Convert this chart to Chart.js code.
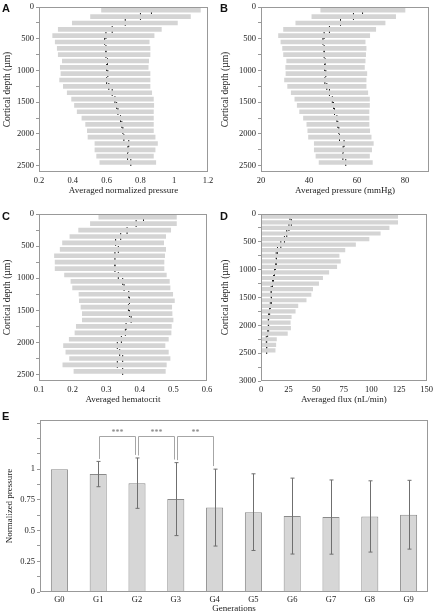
<!DOCTYPE html>
<html>
<head>
<meta charset="utf-8">
<script src="https://cdn.jsdelivr.net/npm/chart.js@4.4.0/dist/chart.umd.min.js"></script>
<style>
  body { margin: 0; background: #fff; }
  #page { position: relative; width: 437px; height: 614px; overflow: hidden; }
  .panel { position: absolute; }
  .letter { position: absolute; font: bold 11px "Liberation Sans", Arial, sans-serif; line-height: 11px; color: #111; }
</style>
</head>
<body>
<div id="page">
  <div class="panel" style="left:0;top:0;width:218px;height:200px"><canvas id="chart-a"></canvas></div>
  <div class="panel" style="left:218px;top:0;width:219px;height:200px"><canvas id="chart-b"></canvas></div>
  <div class="panel" style="left:0;top:200px;width:218px;height:210px"><canvas id="chart-c"></canvas></div>
  <div class="panel" style="left:218px;top:200px;width:219px;height:210px"><canvas id="chart-d"></canvas></div>
  <div class="panel" style="left:0;top:408px;width:437px;height:206px"><canvas id="chart-e"></canvas></div>
  <div class="letter" style="left:2px;top:3px">A</div>
  <div class="letter" style="left:220px;top:3px">B</div>
  <div class="letter" style="left:2px;top:211px">C</div>
  <div class="letter" style="left:220px;top:211px">D</div>
  <div class="letter" style="left:2px;top:411px">E</div>
</div>
<script>
// depth bins (µm), centre of each 100 µm slab
const depths = [50, 150, 250, 350, 450, 550, 650, 750, 850, 950, 1050, 1150, 1250,
  1350, 1450, 1550, 1650, 1750, 1850, 1950, 2050, 2150, 2250, 2350, 2450]

// A - averaged normalized pressure (mean and +/- SD band)
const meanA = [0.865, 0.80, 0.71, 0.633, 0.596, 0.588, 0.596, 0.596, 0.605, 0.60, 0.607, 0.60, 0.613,
  0.633, 0.649, 0.659, 0.667, 0.682, 0.69, 0.696, 0.702, 0.731, 0.726, 0.724, 0.743]
const loA = [0.57, 0.505, 0.397, 0.314, 0.281, 0.296, 0.308, 0.314, 0.338, 0.326, 0.33, 0.322, 0.344,
  0.367, 0.393, 0.41, 0.426, 0.454, 0.476, 0.486, 0.49, 0.531, 0.531, 0.541, 0.56]
const hiA = [1.155, 1.096, 1.019, 0.924, 0.881, 0.852, 0.857, 0.857, 0.849, 0.846, 0.857, 0.857, 0.857,
  0.867, 0.877, 0.879, 0.877, 0.877, 0.877, 0.877, 0.887, 0.901, 0.887, 0.877, 0.891]

// B - averaged pressure (mmHg)
const meanB = [62.3, 58.5, 53.1, 48.5, 46.3, 45.8, 46.3, 46.3, 46.7, 46.5, 47.0, 46.6, 47.4,
  48.5, 49.7, 50.2, 50.6, 51.6, 52.0, 52.4, 52.7, 54.6, 54.2, 54.1, 55.3]
const loB = [44.9, 41.2, 34.5, 29.4, 27.3, 28.3, 29.0, 29.4, 30.7, 30.3, 30.4, 29.8, 31.1,
  32.6, 34.1, 35.1, 36.1, 37.7, 39.1, 39.5, 39.8, 42.2, 42.2, 42.9, 44.2]
const hiB = [80.0, 76.1, 71.7, 67.8, 65.3, 63.4, 63.8, 63.6, 63.4, 63.1, 64.1, 63.8, 63.8,
  64.5, 65.2, 65.2, 65.0, 65.0, 65.0, 65.3, 65.9, 66.8, 66.1, 65.2, 66.4]

// C - averaged hematocrit
const meanC = [0.411, 0.389, 0.362, 0.343, 0.328, 0.336, 0.326, 0.326, 0.326, 0.336, 0.349, 0.353, 0.367,
  0.369, 0.366, 0.369, 0.374, 0.359, 0.357, 0.345, 0.333, 0.340, 0.349, 0.333, 0.349]
const loC = [0.278, 0.253, 0.218, 0.192, 0.170, 0.163, 0.146, 0.148, 0.148, 0.176, 0.195, 0.200, 0.219,
  0.220, 0.225, 0.229, 0.229, 0.211, 0.207, 0.190, 0.173, 0.180, 0.191, 0.171, 0.204]
const hiC = [0.509, 0.509, 0.492, 0.477, 0.471, 0.477, 0.474, 0.472, 0.472, 0.479, 0.488, 0.490, 0.498,
  0.503, 0.495, 0.496, 0.499, 0.494, 0.493, 0.485, 0.475, 0.485, 0.490, 0.479, 0.476]

// D - averaged flux (nL/min), band is clipped at 0
const meanD = [26.2, 27.4, 25.3, 23.3, 21.2, 17.9, 14.9, 13.7, 14.0, 13.1, 12.2, 11.3, 10.4,
  9.2, 9.2, 9.5, 8.4, 7.8, 6.9, 6.6, 6.9, 6.0, 4.8, 5.1, 5.1]
const loD = [0, 0, 0, 0, 0, 0, 0, 0, 0, 0, 0, 0, 0, 0, 0, 0, 0, 0, 0, 0, 0, 0, 0, 0, 0]
const hiD = [123.8, 123.8, 116.0, 108.0, 97.8, 85.6, 76.0, 70.7, 71.9, 68.6, 61.4, 55.8, 52.2,
  46.8, 45.3, 40.9, 33.4, 31.0, 27.4, 26.5, 26.8, 23.9, 14.0, 13.4, 12.8]

// E - normalized pressure per generation
const generations = ["G0", "G1", "G2", "G3", "G4", "G5", "G6", "G7", "G8", "G9"]
const meanE = [1.0, 0.96, 0.886, 0.756, 0.687, 0.650, 0.618, 0.610, 0.615, 0.629]
const errE = [0, 0.103, 0.205, 0.297, 0.313, 0.312, 0.309, 0.302, 0.29, 0.28]
const sigPairs = [[1, 2], [2, 3], [3, 4]]
const sigLabels = ["***", "***", "**"]
const sigLevel = 1.27

// tick positions
const xTicksA = [0.2, 0.4, 0.6, 0.8, 1, 1.2]
const xTicksB = [20, 40, 60, 80]
const xTicksC = [0.1, 0.2, 0.3, 0.4, 0.5, 0.6]
const xTicksD = [0, 25, 50, 75, 100, 125, 150]
const depthTicks = [0, 250, 500, 750, 1000, 1250, 1500, 1750, 2000, 2250, 2500]
const depthTicksD = [0, 250, 500, 750, 1000, 1250, 1500, 1750, 2000, 2250, 2500, 2750, 3000]
const yTicksE = [0, 0.125, 0.25, 0.375, 0.5, 0.625, 0.75, 0.875, 1, 1.125, 1.25, 1.375]

Chart.defaults.font.family = '"Liberation Serif", "DejaVu Serif", serif'
Chart.defaults.font.size = 8.5
Chart.defaults.color = "#222"
Chart.defaults.animation = false

const axisGrey = "#999"

// small "+" glyph used as the mean marker
const plusMark = document.createElement("canvas")
plusMark.width = 7
plusMark.height = 7
const pctx = plusMark.getContext("2d")
pctx.fillStyle = "#1a1a1a"
pctx.fillRect(0, 3, 7, 1)
pctx.fillRect(3, 0, 1, 7)

// grey box round the plot area
const framePlugin = {
  id: "frame",
  afterDatasetsDraw(chart) {
    const { ctx, chartArea: a } = chart
    ctx.save()
    ctx.strokeStyle = axisGrey
    ctx.lineWidth = 1
    ctx.strokeRect(Math.round(a.left) + 0.5, Math.round(a.top) + 0.5,
      Math.round(a.width) - 1, Math.round(a.height) - 1)
    ctx.restore()
  },
}

function setTicks(list) {
  return (scale) => { scale.ticks = list.map((v) => ({ value: v })) }
}

/**
 * Builds one of the depth profile panels (A-D)
 */
function depthPanel(id, opts) {
  const bands = depths.map((d, i) => ({ y: d, x: [opts.lo[i], opts.hi[i]] }))
  const means = depths.map((d, i) => ({ y: d, x: opts.mean[i] }))

  return new Chart(document.getElementById(id), {
    type: "bar",
    data: {
      datasets: [
        {
          type: "bar",
          data: bands,
          backgroundColor: "#d4d4d4",
          borderWidth: 0,
          barThickness: opts.barThickness,
        },
        {
          type: "scatter",
          data: means,
          pointStyle: plusMark,
          pointRadius: 3.5,
        },
      ],
    },
    options: {
      indexAxis: "y",
      responsive: true,
      maintainAspectRatio: false,
      layout: { padding: { top: opts.padTop, right: opts.padRight, left: 0, bottom: 0 } },
      plugins: { legend: { display: false }, tooltip: { enabled: false } },
      scales: {
        x: {
          type: "linear",
          min: opts.xMin,
          max: opts.xMax,
          afterBuildTicks: setTicks(opts.xTicks),
          afterFit: (s) => { s.height = opts.xHeight },
          grid: { display: false, drawTicks: false, tickLength: 0 },
          border: { display: false },
          ticks: { padding: 4, autoSkip: false, maxRotation: 0, callback: (v) => String(v) },
          title: { display: true, text: opts.xTitle, font: { size: 9 }, padding: { top: 0, bottom: opts.titlePad } },
        },
        y: {
          type: "linear",
          reverse: true,
          offset: false,
          min: 0,
          max: opts.yMax,
          afterBuildTicks: setTicks(opts.yTicks),
          afterFit: (s) => { s.width = opts.yWidth },
          grid: { display: true, offset: false, drawOnChartArea: false, drawTicks: true, tickLength: 3, color: axisGrey },
          border: { display: false },
          ticks: { padding: 2, autoSkip: false, callback: (v) => (v % 500 === 0 ? String(v) : "") },
          title: { display: true, text: "Cortical depth (µm)", font: { size: 9.5 }, padding: { top: 2, bottom: 0 } },
        },
      },
    },
    plugins: [framePlugin],
  })
}

depthPanel("chart-a", {
  mean: meanA, lo: loA, hi: hiA, xMin: 0.2, xMax: 1.2, xTicks: xTicksA,
  yMax: 2600, yTicks: depthTicks, xTitle: "Averaged normalized pressure",
  padTop: 4, padRight: 10, yWidth: 39, xHeight: 28, barThickness: 4, titlePad: 3.5,
})

depthPanel("chart-b", {
  mean: meanB, lo: loB, hi: hiB, xMin: 20, xMax: 90, xTicks: xTicksB,
  yMax: 2600, yTicks: depthTicks, xTitle: "Averaged pressure (mmHg)",
  padTop: 4, padRight: 8, yWidth: 43, xHeight: 28, barThickness: 4, titlePad: 3.5,
})

depthPanel("chart-c", {
  mean: meanC, lo: loC, hi: hiC, xMin: 0.1, xMax: 0.6, xTicks: xTicksC,
  yMax: 2600, yTicks: depthTicks, xTitle: "Averaged hematocrit",
  padTop: 14, padRight: 11, yWidth: 39, xHeight: 29, barThickness: 4, titlePad: 5,
})

depthPanel("chart-d", {
  mean: meanD, lo: loD, hi: hiD, xMin: 0, xMax: 150, xTicks: xTicksD,
  yMax: 3000, yTicks: depthTicksD, xTitle: "Averaged flux (nL/min)",
  padTop: 14, padRight: 8, yWidth: 43, xHeight: 29, barThickness: 3.5, titlePad: 5,
})

// vertical SD bars with caps on panel E
const errorBarPlugin = {
  id: "errorBars",
  afterDatasetsDraw(chart) {
    const { ctx, scales: { x, y } } = chart
    ctx.save()
    ctx.strokeStyle = "#6f6f6f"
    ctx.lineWidth = 1
    meanE.forEach((m, i) => {
      if (!errE[i]) return
      const px = Math.round(x.getPixelForValue(i)) + 0.5
      const top = y.getPixelForValue(m + errE[i])
      const bot = y.getPixelForValue(m - errE[i])
      ctx.beginPath()
      ctx.moveTo(px, top)
      ctx.lineTo(px, bot)
      ctx.moveTo(px - 2, top)
      ctx.lineTo(px + 2, top)
      ctx.moveTo(px - 2, bot)
      ctx.lineTo(px + 2, bot)
      ctx.stroke()
    })
    ctx.restore()
  },
}

// significance brackets between neighbouring generations
const bracketPlugin = {
  id: "brackets",
  afterDatasetsDraw(chart) {
    const { ctx, scales: { x, y } } = chart
    ctx.save()
    ctx.strokeStyle = "#a6a6a6"
    ctx.fillStyle = "#777"
    ctx.lineWidth = 1
    ctx.font = '8px "Liberation Serif", serif'
    ctx.textAlign = "center"
    ctx.textBaseline = "middle"
    const yl = Math.round(y.getPixelForValue(sigLevel)) + 0.5
    sigPairs.forEach(([a, b], k) => {
      const x1 = Math.round(x.getPixelForValue(a) + 1) + 0.5
      const x2 = Math.round(x.getPixelForValue(b) - 2) + 0.5
      const y1 = y.getPixelForValue(meanE[a] + errE[a] + 0.02)
      const y2 = y.getPixelForValue(meanE[b] + errE[b] + 0.025)
      ctx.beginPath()
      ctx.moveTo(x1, y1)
      ctx.lineTo(x1, yl)
      ctx.lineTo(x2, yl)
      ctx.lineTo(x2, y2)
      ctx.stroke()
      ctx.fillText(sigLabels[k], (x1 + x2) / 2, yl - 4)
    })
    ctx.restore()
  },
}

new Chart(document.getElementById("chart-e"), {
  type: "bar",
  data: {
    labels: generations,
    datasets: [
      {
        data: meanE,
        backgroundColor: "#d6d6d6",
        borderColor: "#8a8a8a",
        borderWidth: 1,
        barPercentage: 0.44,
        categoryPercentage: 1,
      },
    ],
  },
  options: {
    responsive: true,
    maintainAspectRatio: false,
    layout: { padding: { top: 12, right: 9, left: 0, bottom: 0 } },
    plugins: { legend: { display: false }, tooltip: { enabled: false } },
    scales: {
      x: {
        afterFit: (s) => { s.height = 22 },
        grid: { display: false, drawTicks: false, tickLength: 0 },
        border: { display: false },
        ticks: { padding: 3 },
        title: { display: true, text: "Generations", font: { size: 9 }, padding: { top: 0, bottom: 0 } },
      },
      y: {
        min: 0,
        max: 1.4,
        afterBuildTicks: setTicks(yTicksE),
        afterFit: (s) => { s.width = 40 },
        grid: { display: true, drawOnChartArea: false, drawTicks: true, tickLength: 3, color: axisGrey },
        border: { display: false },
        ticks: { padding: 2, autoSkip: false, callback: (v) => ([0, 0.25, 0.5, 0.75, 1].includes(v) ? String(v) : "") },
        title: { display: true, text: "Normalized pressure", font: { size: 9 }, padding: { top: 4, bottom: 0 } },
      },
    },
  },
  plugins: [framePlugin, errorBarPlugin, bracketPlugin],
})
</script>
</body>
</html>
